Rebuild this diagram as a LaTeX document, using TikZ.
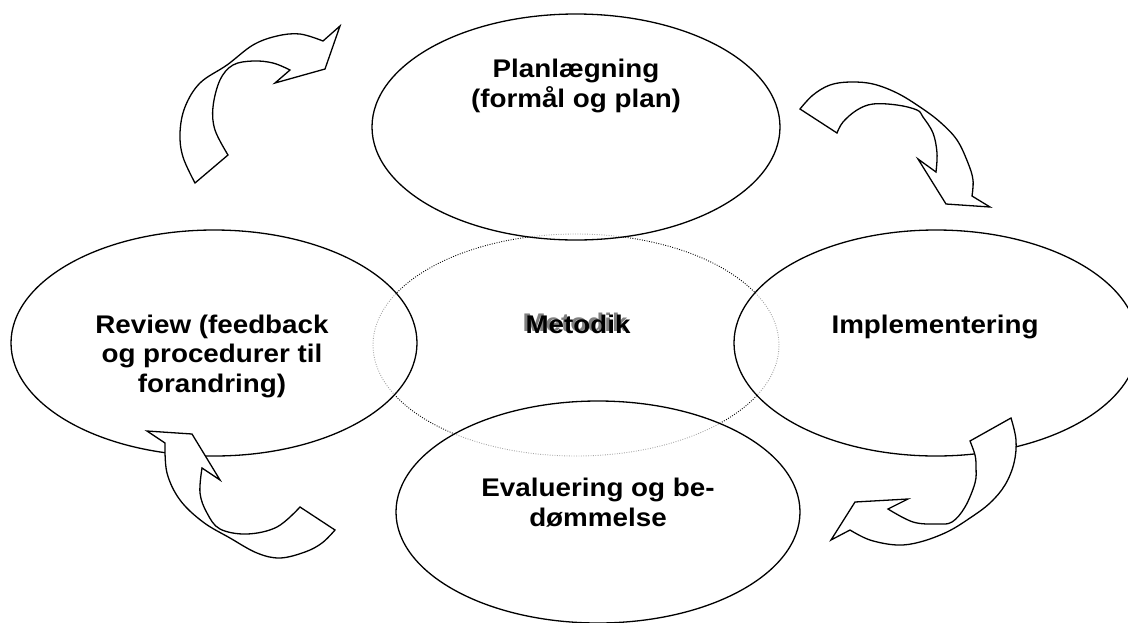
\documentclass[tikz,border=0pt]{standalone}
\usepackage{fontspec}
\setmainfont{Liberation Sans}
\newfontfamily\lblfont{Liberation Sans}[FakeStretch=1.09]
\usetikzlibrary{shapes.geometric}
\begin{document}
\begin{tikzpicture}[x=1pt,y=-1pt,
  ell/.style={ellipse, draw=black, line width=1.3pt, fill=white, fill opacity=0.65, inner sep=0pt},
  dotell/.style={ellipse, draw=black, line width=0.9pt, dash pattern=on 0.9pt off 1.5pt, inner sep=0pt},
  arrowshape/.style={draw=black, line width=1.3pt, fill=white, line join=miter},
  lbl/.style={font=\lblfont\bfseries\fontsize{25.5}{29.5}\selectfont, align=center, anchor=base, inner sep=0pt, text=black}]
\useasboundingbox (0,0) rectangle (1128,622);
% central dotted ellipse
\node[dotell, minimum width=406pt, minimum height=222pt] (met) at (576,345) {};
% main ellipses
\node[ell, minimum width=408pt, minimum height=226pt] (plan) at (576,127) {};
\node[ell, minimum width=406pt, minimum height=226pt] (rev) at (214,343) {};
\node[ell, minimum width=404pt, minimum height=226pt] (impl) at (936,343) {};
\node[ell, minimum width=404pt, minimum height=222pt] (eval) at (598,512) {};
% Metodik with shadow
\node[lbl, text=black!50] (metsh) at (575,331) {Metodik};
\node[lbl] (mettxt) at (578,333) {Metodik};
% curved arrows
\draw[arrowshape] plot[smooth, tension=0.6] coordinates {(195,183) (183,157) (180,133) (185,107) (200,83) (227,65) (253,45) (277,36) (300,34) (323,41)}
  -- (340,26) -- (325,69) -- (275,83)
  -- plot[smooth, tension=0.6] coordinates {(290,70) (273,63) (253,61) (233,65) (220,80) (213,107) (215,130) (228,155)} -- cycle;
\draw[arrowshape] plot[smooth, tension=0.6] coordinates {(800,109) (813,95) (830,85) (850,82) (873,84) (897,93) (920,107) (940,122) (957,140) (968,163) (973,180) (972,196)}
  -- (990,207) -- (946,204) -- (918,159)
  -- plot[smooth, tension=0.6] coordinates {(936,172) (937,153) (933,133) (923,117) (917,110) (897,105) (873,104) (857,110) (843,122) (837,133)} -- cycle;
\draw[arrowshape] plot[smooth, tension=0.6] coordinates {(1011,418) (1016,440) (1014,463) (1005,485) (990,503) (970,518) (947,532) (920,542) (897,545) (870,540) (850,530)}
  -- (831,540) -- (855,502) -- (908,499)
  -- plot[smooth, tension=0.6] coordinates {(888,509) (913,522) (937,524) (952,522) (965,507) (975,483) (976,467) (975,455) (970,441)} -- cycle;
\draw[arrowshape] plot[smooth, tension=0.6] coordinates {(335,530) (322,543) (305,552) (280,558) (257,553) (230,538) (203,522) (180,500) (167,473) (165,443)}
  -- (147,431) -- (192,434) -- (220,480)
  -- plot[smooth, tension=0.6] coordinates {(202,468) (200,493) (207,513) (220,529) (247,534) (277,527) (300,507)} -- cycle;
% labels (base anchor = baseline of the last line)
\node[lbl] (plantxt) at (576,107) {Planlægning\\(formål og plan)};
\node[lbl] (revtxt) at (212,392) {Review (feedback\\og procedurer til\\forandring)};
\node[lbl] (impltxt) at (935,333) {Implementering};
\node[lbl] (evaltxt) at (598,526) {Evaluering og be-\\dømmelse};
\end{tikzpicture}
\end{document}
